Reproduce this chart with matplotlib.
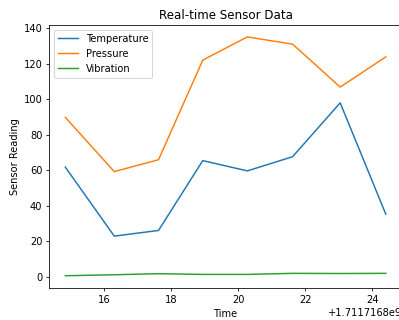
import matplotlib
matplotlib.use("Agg")
import matplotlib.pyplot as plt

# Sample timestamps (seconds since epoch) and sensor readings
timestamps = [1711716814.84, 1711716816.30, 1711716817.62, 1711716818.94,
              1711716820.27, 1711716821.62, 1711716823.04, 1711716824.40]
temperature = [61.7, 22.8, 26.0, 65.4, 59.6, 67.6, 98.0, 35.2]
pressure = [89.8, 59.2, 65.9, 122.1, 135.2, 131.1, 106.9, 123.9]
vibration = [0.45, 1.0, 1.6, 1.2, 1.2, 1.8, 1.7, 1.8]

dpi = 71
fig = plt.figure(figsize=(399 / dpi, 320 / dpi), dpi=dpi)
ax = fig.add_axes([0.1236, 0.101, 1.007 - 0.1236, 0.922 - 0.101])

ax.plot(timestamps, temperature, label="Temperature")
ax.plot(timestamps, pressure, label="Pressure")
ax.plot(timestamps, vibration, label="Vibration")

ax.set_title("Real-time Sensor Data")
ax.set_xlabel("Time")
ax.set_ylabel("Sensor Reading")
ax.legend(loc="upper left")

fig.savefig("out.png", dpi=dpi)
